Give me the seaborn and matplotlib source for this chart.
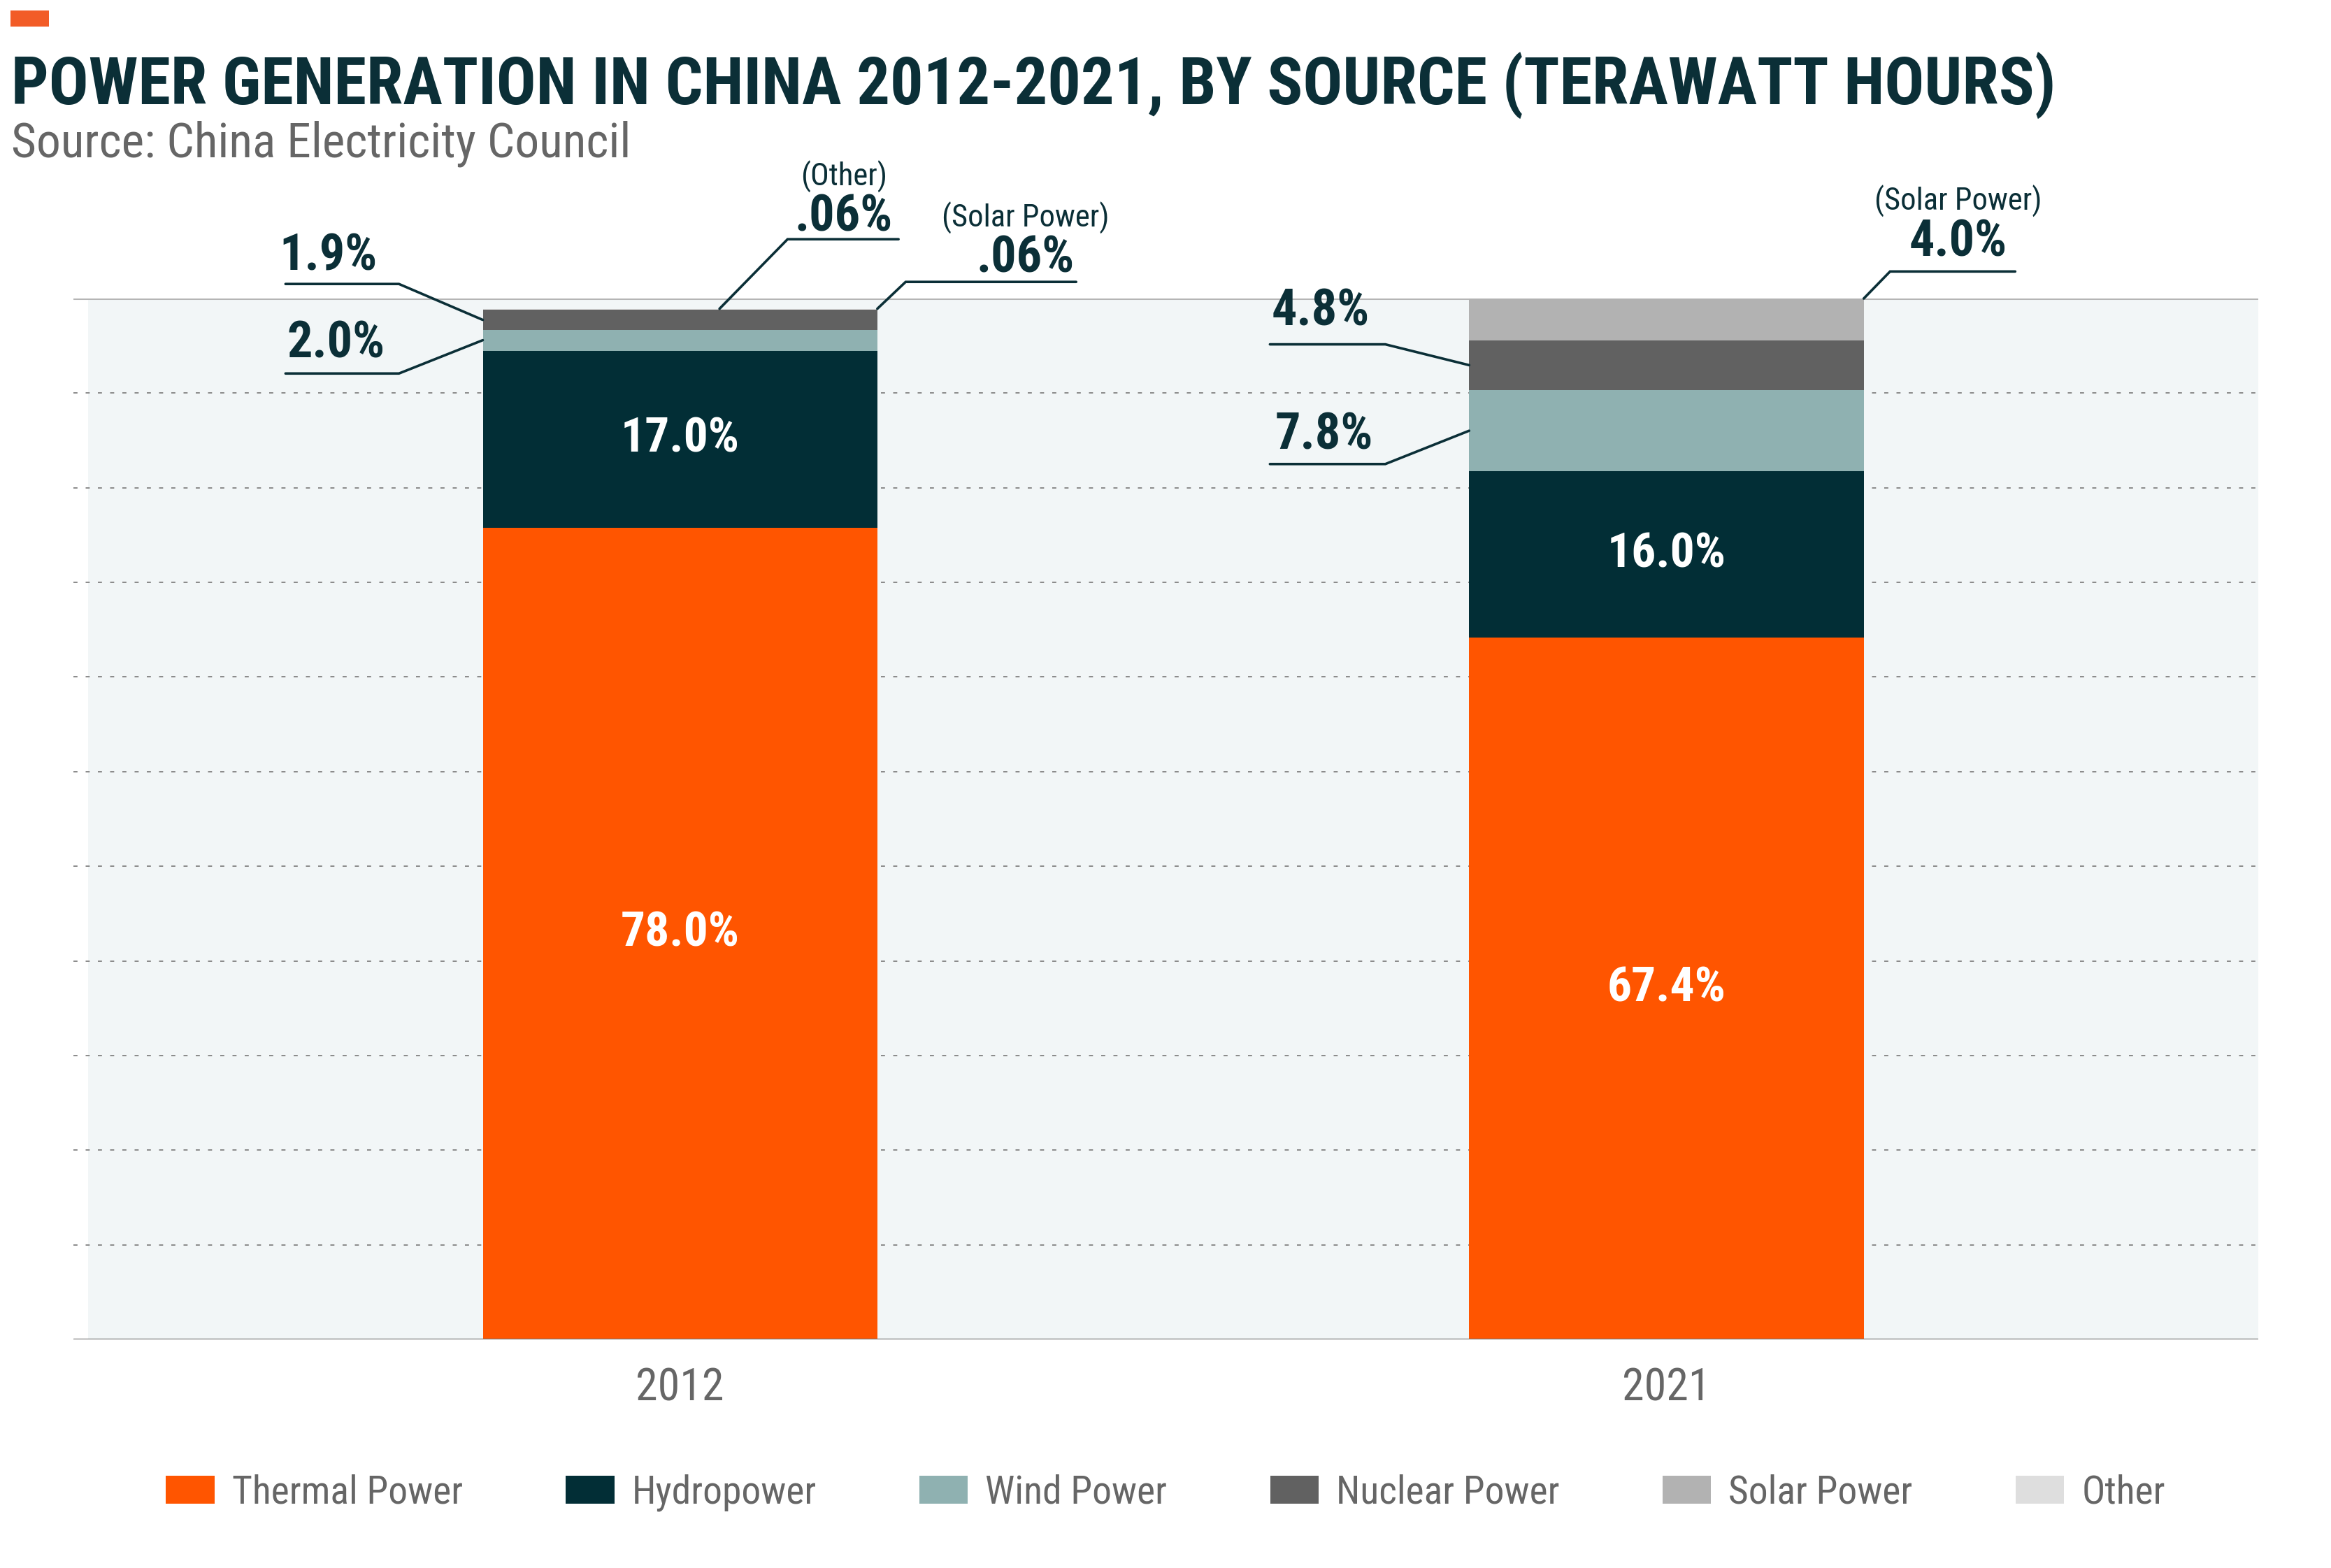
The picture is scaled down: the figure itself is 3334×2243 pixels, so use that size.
import matplotlib
matplotlib.use("Agg")
import matplotlib.pyplot as plt
from matplotlib import font_manager
from matplotlib.patches import Rectangle
import numpy as np
import pandas as pd
import seaborn as sns

# share of generation per year (%)
years = ["2012", "2021"]
sources = ["Thermal Power", "Hydropower", "Wind Power", "Nuclear Power", "Solar Power", "Other"]
thermal = [78.0, 67.4]
hydro = [17.0, 16.0]
wind = [2.0, 7.8]
nuclear = [1.9, 4.8]
solar = [0.06, 4.0]
other = [0.06, 0.0]
colors = ["#ff5500", "#022e36", "#8fb1b1", "#616161", "#b2b2b2", "#dedede"]

# callouts: (year idx, source idx, anchor dx, anchor mode, text x, text y, line y, line x0, line x1, caption)
callouts = [
    (0, 3, -0.2, "mid", -0.357, 102.7, 101.4, -0.400, -0.285, None),
    (0, 2, -0.2, "mid", -0.349, 94.3, 92.8, -0.400, -0.285, None),
    (0, 5, 0.04, "top", 0.166, 106.5, 105.7, 0.109, 0.2215, "(Other)"),
    (0, 4, 0.2, "top", 0.350, 102.55, 101.6, 0.2287, 0.4016, "(Solar Power)"),
    (1, 4, 0.2, "top", 1.296, 104.1, 102.6, 1.2267, 1.3536, "(Solar Power)"),
    (1, 3, -0.2, "mid", 0.649, 97.45, 95.6, 0.598, 0.715, None),
    (1, 2, -0.2, "mid", 0.653, 85.5, 84.1, 0.598, 0.715, None),
]

DARK = "#0b2f37"
GREY = "#666666"

sns.set_theme(style="white")


def pick_font():
    names = {f.name for f in font_manager.fontManager.ttflist}
    for fam in ["Roboto Condensed", "Liberation Sans Narrow", "Open Sans Condensed"]:
        if fam in names:
            return fam
    return "DejaVu Sans"


FONT = pick_font()
plt.rcParams["font.family"] = [FONT, "DejaVu Sans"]
plt.rcParams["font.stretch"] = "condensed"


def fmt(v):
    return f"{v:.2f}%".lstrip("0") if v < 0.1 else f"{v:.1f}%"


df = pd.DataFrame({"year": years, "Thermal Power": thermal, "Hydropower": hydro,
                   "Wind Power": wind, "Nuclear Power": nuclear,
                   "Solar Power": solar, "Other": other})

fig = plt.figure(figsize=(16.67, 11.215), dpi=200)
ax = fig.add_axes([0.0315, 0.1458, 0.9373, 0.6638])

ax.set_facecolor("white")
ax.axvspan(-0.6, 1.6, color="#f2f6f7", zorder=0, lw=0)

bottom = np.zeros(len(years))
bottoms = []
for src, col in zip(sources, colors):
    sns.barplot(data=df, x="year", y=src, bottom=bottom, color=col, saturation=1,
                width=0.4, errorbar=None, label=src, linewidth=0, zorder=2, ax=ax)
    bottoms.append(bottom.copy())
    bottom = bottom + df[src].to_numpy()
totals = bottom
if ax.get_legend() is not None:
    ax.get_legend().remove()

ax.set_xlim(-0.615, 1.6)
ax.set_ylim(0, 100)
ax.set_xlabel("")
ax.set_ylabel("")
ax.set_yticks(np.linspace(0, 100, 12))
ax.tick_params(axis="y", length=0, labelleft=False)
ax.tick_params(axis="x", length=0, pad=14, labelsize=23, labelcolor=GREY)
ax.grid(axis="y", linestyle=(0, (3, 6)), color="#8a8a8a", lw=0.7)
ax.set_axisbelow(True)
for s in ax.spines.values():
    s.set_visible(False)
ax.axhline(100, color="#b5b5b5", lw=1.1, zorder=1.5)
ax.axhline(0, color="#777777", lw=1.2, zorder=3)

# labels inside the two big segments
for si in (0, 1):
    vals = df[sources[si]].to_numpy()
    for i, v in enumerate(vals):
        ax.text(i, bottoms[si][i] + v / 2, fmt(v), ha="center", va="center",
                color="white", fontsize=25, fontweight="bold", zorder=4)

# callouts for the thin segments
for yi, si, dx, mode, tx, ty, ly, x0, x1, cap in callouts:
    v = df[sources[si]].iloc[yi]
    ay = totals[yi] if mode == "top" else bottoms[si][yi] + v / 2
    axp = yi + dx
    near, far = (x1, x0) if abs(x1 - axp) < abs(x0 - axp) else (x0, x1)
    ax.plot([far, near, axp], [ly, ly, ay], color=DARK, lw=1.3, clip_on=False,
            solid_joinstyle="miter", zorder=5)
    ax.text(tx, ty, fmt(v), ha="center", va="baseline", color=DARK,
            fontsize=26, fontweight="bold", clip_on=False)
    if cap:
        ax.text(tx, ty + 4.35, cap, ha="center", va="baseline", color=DARK,
                fontsize=16, clip_on=False)

# header
fig.patches.append(Rectangle((0.0045, 0.983), 0.0165, 0.0103, transform=fig.transFigure,
                             color="#f25c27", lw=0))
fig.text(0.0048, 0.9336, "POWER GENERATION IN CHINA 2012-2021, BY SOURCE (TERAWATT HOURS)",
         ha="left", va="baseline", fontsize=34, fontweight="bold", color=DARK)
fig.text(0.0048, 0.9000, "Source: China Electricity Council", ha="left", va="baseline",
         fontsize=25, color=GREY)

handles, labels = ax.get_legend_handles_labels()
leg = fig.legend(handles, labels, loc="center", bbox_to_anchor=(0.5, 0.048), ncol=6,
                 frameon=False, fontsize=20, handlelength=1.25, handleheight=0.72,
                 handletextpad=0.45, columnspacing=2.65)
for t in leg.get_texts():
    t.set_color(GREY)

fig.savefig("out.png", dpi=200)
